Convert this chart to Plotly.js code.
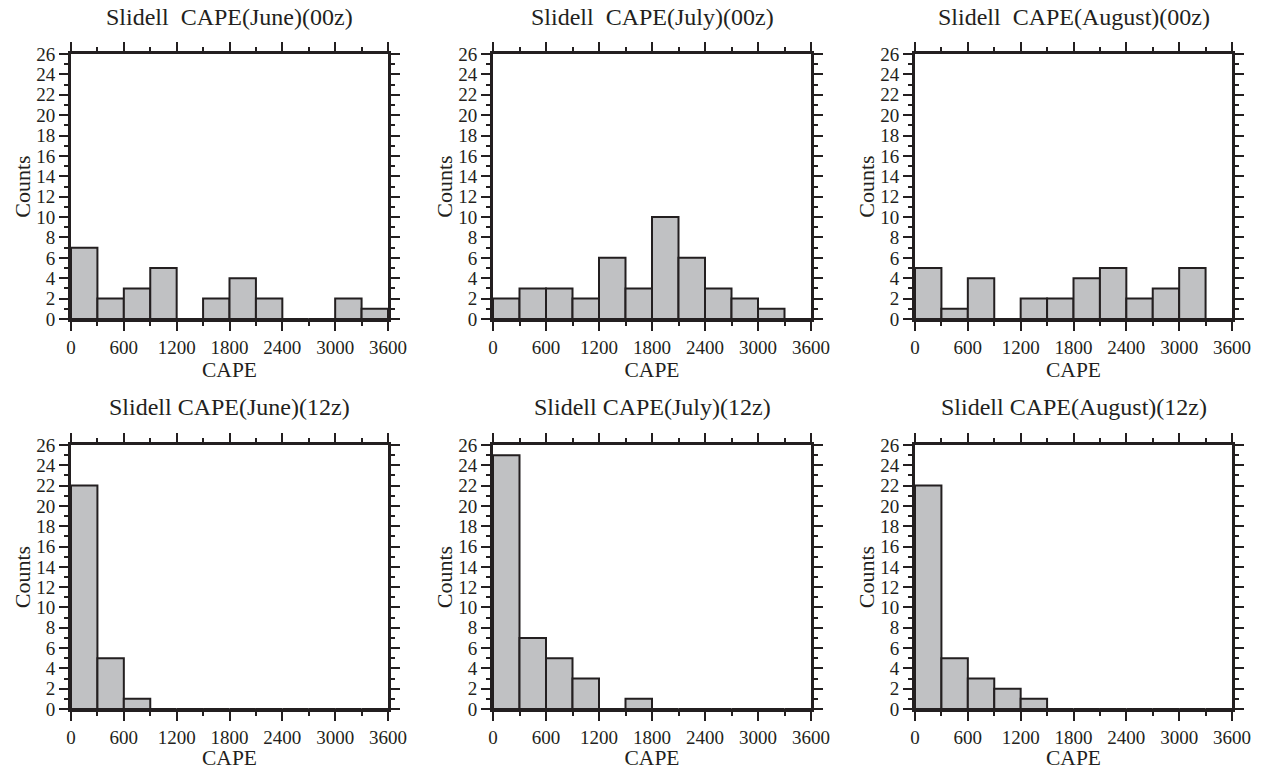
<!DOCTYPE html>
<html>
<head>
<meta charset="utf-8">
<script src="https://cdn.plot.ly/plotly-3.0.1.min.js"></script>
<style>html,body{margin:0;padding:0;background:#fff;}#chart{width:1263px;height:770px;}</style>
</head>
<body>
<div id="chart"></div>
<script>
// Bin starts (CAPE, width 300)
const binStarts = [0,300,600,900,1200,1500,1800,2100,2400,2700,3000,3300];
const binWidth = 300;
const xTickVals = [0,600,1200,1800,2400,3000,3600];
const yTickVals = [0,2,4,6,8,10,12,14,16,18,20,22,24,26];

const titles = [
  "Slidell  CAPE(June)(00z)",
  "Slidell  CAPE(July)(00z)",
  "Slidell  CAPE(August)(00z)",
  "Slidell CAPE(June)(12z)",
  "Slidell CAPE(July)(12z)",
  "Slidell CAPE(August)(12z)"
];

const june00   = [7,2,3,5,0,2,4,2,0,0,2,1];
const july00   = [2,3,3,2,6,3,10,6,3,2,1,0];
const august00 = [5,1,4,0,2,2,4,5,2,3,5,0];
const june12   = [22,5,1,0,0,0,0,0,0,0,0,0];
const july12   = [25,7,5,3,0,1,0,0,0,0,0,0];
const august12 = [22,5,3,2,1,0,0,0,0,0,0,0];

const series = [june00, july00, august00, june12, july12, august12];

const W = 1263, H = 770;
const colsPx = [[71,388],[493,811],[915,1232]];
const rowsPx = [[54,319],[445,709]];
const font = "Liberation Serif, Times New Roman, serif";

const data = [];
const layout = {
  width: W, height: H,
  margin: {l:0,r:0,t:0,b:0},
  paper_bgcolor: "#fff",
  plot_bgcolor: "#fff",
  showlegend: false,
  font: {family: font, color: "#231f20"},
  annotations: []
};

series.forEach((vals, i) => {
  const r = Math.floor(i/3), c = i%3;
  const idx = i===0 ? "" : String(i+1);
  data.push({
    type: "bar",
    x: binStarts,
    y: vals,
    width: binWidth,
    offset: 0,
    xaxis: "x"+idx, yaxis: "y"+idx,
    marker: {color: "#c0c1c3", line: {color: "#231f20", width: 2}},
    hoverinfo: "x+y"
  });
  const xd = [colsPx[c][0]/W, colsPx[c][1]/W];
  const yd = [1 - rowsPx[r][1]/H, 1 - rowsPx[r][0]/H];
  layout["xaxis"+idx] = {
    domain: xd, anchor: "y"+idx,
    range: [0,3600], tickvals: xTickVals, ticktext: xTickVals.map(String),
    ticks: "outside", ticklen: 9, tickwidth: 1.5, tickcolor: "#231f20",
    minor: {dtick: 300, tick0: 0, ticks: "outside", ticklen: 4, tickwidth: 1.5, tickcolor: "#231f20"},
    showline: true, linewidth: 3, linecolor: "#231f20", mirror: "allticks",
    showgrid: false, zeroline: false, fixedrange: true,
    tickfont: {family: font, size: 19, color: "#231f20"},
    title: {text: "CAPE", font: {family: font, size: 21.5, color: "#231f20"}, standoff: 3}
  };
  layout["yaxis"+idx] = {
    domain: yd, anchor: "x"+idx,
    range: [0,26], tickvals: yTickVals, ticktext: yTickVals.map(String),
    ticks: "outside", ticklen: 9, tickwidth: 1.5, tickcolor: "#231f20",
    minor: {dtick: 1, tick0: 0, ticks: "outside", ticklen: 4, tickwidth: 1.5, tickcolor: "#231f20"},
    showline: true, linewidth: 3, linecolor: "#231f20", mirror: "allticks",
    showgrid: false, zeroline: false, fixedrange: true,
    tickfont: {family: font, size: 19, color: "#231f20"},
    title: {text: "Counts", font: {family: font, size: 22, color: "#231f20"}, standoff: 0}
  };
  layout.annotations.push({
    text: titles[i], showarrow: false,
    xref: "paper", yref: "paper",
    x: (xd[0]+xd[1])/2, y: 1 - (r===0 ? 17 : 407)/H,
    xanchor: "center", yanchor: "middle",
    font: {family: font, size: 24, color: "#231f20"}
  });
});

Plotly.newPlot("chart", data, layout, {displayModeBar: false, staticPlot: false});
</script>
</body>
</html>
